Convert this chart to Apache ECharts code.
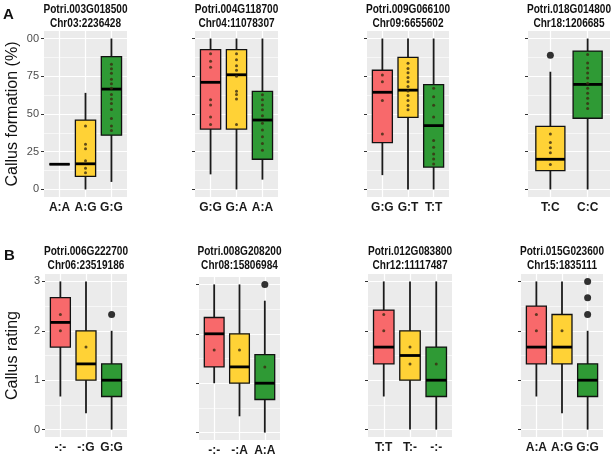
<!DOCTYPE html>
<html><head><meta charset="utf-8">
<script src="https://cdn.jsdelivr.net/npm/echarts@6.0.0/dist/echarts.min.js"></script>
<style>html,body{margin:0;padding:0;background:#fff}#c{width:615px;height:456px}</style>
</head><body><div id="c"></div>
<script>
// ---------- DATA ----------
// stats per category: [min, Q1, median, Q3, max]; fill: 0 red, 1 yellow, 2 green
const A1_title = ['Potri.003G018500', 'Chr03:2236428'];
const A1_cats = ['A:A', 'A:G', 'G:G'];
const A1_stats = [[16.7,16.7,16.7,16.7,16.7], [0,8.7,17,46,64], [5,36,66.5,88,100]];
const A1_fill = [0, 1, 2];
const A1_dots = [[], [42,30,27,19,14,11], [83,80,77,73,70,67,63,60,57,53,47,42,39]];
const A1_out = [[], [], []];

const A2_title = ['Potri.004G118700', 'Chr04:11078307'];
const A2_cats = ['G:G', 'G:A', 'A:A'];
const A2_stats = [[10,40,71,92.6,100], [0,40,76,92.6,100], [6.5,20,46,65,100]];
const A2_fill = [0, 1, 2];
const A2_dots = [[90,85,81,59.5,56,48,43], [90,86,82,79,75,65,63,60,43], [62.8,59.5,56,52.8,48.8,43.9,39.4,35,30.4,26]];
const A2_out = [[], [], []];

const A3_title = ['Potri.009G066100', 'Chr09:6655602'];
const A3_cats = ['G:G', 'G:T', 'T:T'];
const A3_stats = [[9.5,31,64.4,79,100], [0,47.7,65.8,87.5,100], [0,14.8,42.3,69.4,100]];
const A3_fill = [0, 1, 2];
const A3_dots = [[75.8,71.3,59,36.7], [83.6,80.2,77.3,74.2,71.3,68.3,65.2,62.3,59,55.6,52.8], [67,61.4,55.8,48,32.4,27.9,23.5,20.1,16.8]];
const A3_out = [[], [], []];

const A4_title = ['Potri.018G014800', 'Chr18:1206685'];
const A4_cats = ['T:C', 'C:C'];
const A4_stats = [[0,12.5,20,41.8,78], [0,47.2,69.6,91.7,100]];
const A4_fill = [1, 2];
const A4_dots = [[36.7,31.1,27.7,24.4,16.6], [89.4,83.8,80.5,77.1,73.8,70.4,67.1,63.7,60.4,57,53.7]];
const A4_out = [[88.9], []];

const B1_title = ['Potri.006G222700', 'Chr06:23519186'];
const B1_cats = ['-:-', '-:G', 'G:G'];
const B1_stats = [[0.67,1.67,2.17,2.67,3], [0.33,1,1.33,2,3], [0,0.67,1,1.33,2]];
const B1_fill = [0, 1, 2];
const B1_dots = [[2.33,2.0], [1.67], []];
const B1_out = [[], [], [2.33]];

const B2_title = ['Potri.008G208200', 'Chr08:15806984'];
const B2_cats = ['-:-', '-:A', 'A:A'];
const B2_stats = [[1,1.33,2,2.33,3], [0.33,1,1.33,2,3], [0,0.67,1,1.58,2.67]];
const B2_fill = [0, 1, 2];
const B2_dots = [[1.67], [1.67], [1.33]];
const B2_out = [[], [], [3]];

const B3_title = ['Potri.012G083800', 'Chr12:11117487'];
const B3_cats = ['T:T', 'T:-', '-:-'];
const B3_stats = [[0.67,1.33,1.67,2.42,3], [0,1,1.5,2,3], [0,0.67,1,1.67,3]];
const B3_fill = [0, 1, 2];
const B3_dots = [[2.33,2.0], [1.67,1.33], [1.33]];
const B3_out = [[], [], []];

const B4_title = ['Potri.015G023600', 'Chr15:1835111'];
const B4_cats = ['A:A', 'A:G', 'G:G'];
const B4_stats = [[0.67,1.33,1.67,2.5,3], [0.33,1.33,1.67,2.33,3], [0,0.67,1,1.33,2]];
const B4_fill = [0, 1, 2];
const B4_dots = [[2.33,2.0], [2.0], []];
const B4_out = [[], [], [3,2.67,2.33]];

const yTicksA = [0, 25, 50, 75, 100];
const yTickLabelsA = ['0', '25', '50', '75', '00'];
const yMinorA = [12.5, 37.5, 62.5, 87.5];
const yTicksB = [0, 1, 2, 3];
const yTickLabelsB = ['0', '1', '2', '3'];
const yMinorB = [0.5, 1.5, 2.5];
const yNameA = 'Callus formation (%)';
const yNameB = 'Callus rating';

// ---------- STYLE / LAYOUT ----------
const fillPalette = ['#F8696B', '#FFD236', '#2F9A35'];
const BOX_W = 0.78;
const FONT = "'Liberation Sans',Arial,sans-serif";

const panels = [
  {t:A1_title,c:A1_cats,s:A1_stats,f:A1_fill,d:A1_dots,o:A1_out,row:'A',left:44,width:83,top:31,height:166,labels:true},
  {t:A2_title,c:A2_cats,s:A2_stats,f:A2_fill,d:A2_dots,o:A2_out,row:'A',left:195,width:83,top:31,height:166,labels:false},
  {t:A3_title,c:A3_cats,s:A3_stats,f:A3_fill,d:A3_dots,o:A3_out,row:'A',left:367,width:82,top:31,height:166,labels:false},
  {t:A4_title,c:A4_cats,s:A4_stats,f:A4_fill,d:A4_dots,o:A4_out,row:'A',left:528,width:82,top:31,height:166,labels:false},
  {t:B1_title,c:B1_cats,s:B1_stats,f:B1_fill,d:B1_dots,o:B1_out,row:'B',left:45,width:82,top:274,height:163,labels:true},
  {t:B2_title,c:B2_cats,s:B2_stats,f:B2_fill,d:B2_dots,o:B2_out,row:'B',left:199,width:81,top:277,height:163,labels:false},
  {t:B3_title,c:B3_cats,s:B3_stats,f:B3_fill,d:B3_dots,o:B3_out,row:'B',left:368,width:84,top:274,height:163,labels:false},
  {t:B4_title,c:B4_cats,s:B4_stats,f:B4_fill,d:B4_dots,o:B4_out,row:'B',left:521,width:82,top:274,height:163,labels:false}
];

function renderBox(params, api) {
  const x = api.value(0);
  const pMin = api.coord([x, api.value(1)]);
  const pQ1 = api.coord([x, api.value(2)]);
  const pMd = api.coord([x, api.value(3)]);
  const pQ3 = api.coord([x, api.value(4)]);
  const pMax = api.coord([x, api.value(5)]);
  const half = api.size([BOX_W, 0])[0] / 2;
  const fill = fillPalette[api.value(6)];
  return {type: 'group', children: [
    {type: 'line', shape: {x1: pMin[0], y1: pMin[1], x2: pMax[0], y2: pMax[1]}, style: {stroke: '#1A1A1A', lineWidth: 1.8}},
    {type: 'rect', shape: {x: pQ3[0] - half, y: pQ3[1], width: half * 2, height: pQ1[1] - pQ3[1]}, style: {fill: fill, stroke: '#111', lineWidth: 1.3}},
    {type: 'line', shape: {x1: pMd[0] - half, y1: pMd[1], x2: pMd[0] + half, y2: pMd[1]}, style: {stroke: '#000', lineWidth: 2.8}}
  ]};
}

const option = {animation: false, grid: [], xAxis: [], yAxis: [], series: [], graphic: []};

panels.forEach((p, i) => {
  const isA = p.row === 'A';
  const ticks = isA ? yTicksA : yTicksB;
  const tickLabels = isA ? yTickLabelsA : yTickLabelsB;
  const minor = isA ? yMinorA : yMinorB;
  const n = p.c.length;
  const xs = p.c.map((_, k) => k + 1);
  option.grid.push({left: p.left, top: p.top, width: p.width, height: p.height, show: true,
    backgroundColor: '#EBEBEB', borderWidth: 0, containLabel: false, outerBoundsMode: 'none'});
  option.xAxis.push({gridIndex: i, type: 'value', min: 0.4, max: n + 0.6,
    axisLine: {show: false}, splitLine: {show: false},
    axisTick: {show: true, customValues: xs, length: 3, lineStyle: {color: '#333', width: 1}},
    axisLabel: {show: true, customValues: xs, margin: 5, formatter: v => p.c[Math.round(v) - 1],
      fontSize: 12, fontWeight: 'bold', color: '#1A1A1A', fontFamily: FONT}});
  const span = ticks[ticks.length - 1] - ticks[0];
  option.yAxis.push({gridIndex: i, type: 'value', min: ticks[0] - span * 0.05, max: ticks[ticks.length - 1] + span * 0.05,
    axisLine: {show: false}, splitLine: {show: false},
    axisTick: {show: true, customValues: ticks, length: 3, lineStyle: {color: '#333', width: 1}},
    axisLabel: {show: p.labels, customValues: ticks, margin: 5, fontSize: 11, color: '#4D4D4D',
      fontFamily: FONT, formatter: v => tickLabels[ticks.indexOf(v)]},
    name: p.labels ? (isA ? yNameA : yNameB) : '', nameLocation: 'middle', nameRotate: 90,
    nameGap: isA ? 23 : 24, nameTextStyle: {fontSize: 16, color: '#111', fontFamily: FONT}});

  // grid lines via markLine (kept beneath the boxes)
  const ml = [];
  ticks.forEach(v => ml.push({yAxis: v, lineStyle: {width: 1.2}}));
  minor.forEach(v => ml.push({yAxis: v, lineStyle: {width: 0.6}}));
  xs.forEach(v => ml.push({xAxis: v, lineStyle: {width: 1.2}}));
  option.series.push({type: 'scatter', xAxisIndex: i, yAxisIndex: i, data: [], z: 1, silent: true,
    markLine: {z: 1, silent: true, symbol: ['none', 'none'], label: {show: false}, animation: false,
      lineStyle: {color: '#FFFFFF', type: 'solid'}, emphasis: {disabled: true}, data: ml}});

  // boxes
  option.series.push({type: 'custom', xAxisIndex: i, yAxisIndex: i, z: 10, silent: true,
    renderItem: renderBox, encode: {x: 0, y: [1, 2, 3, 4, 5]},
    data: p.s.map((st, k) => [k + 1, st[0], st[1], st[2], st[3], st[4], p.f[k]])});

  // jittered dots
  const dots = [];
  p.d.forEach((arr, k) => arr.forEach(v => dots.push([k + 1, v])));
  option.series.push({type: 'scatter', xAxisIndex: i, yAxisIndex: i, z: 11, silent: true,
    symbolSize: 3, itemStyle: {color: '#3A2A10', opacity: 0.8}, data: dots});

  // outliers
  const outs = [];
  p.o.forEach((arr, k) => arr.forEach(v => outs.push([k + 1, v])));
  option.series.push({type: 'scatter', xAxisIndex: i, yAxisIndex: i, z: 11, silent: true,
    symbolSize: 7, itemStyle: {color: '#000'}, data: outs});

  // panel title (condensed bold)
  const cx = p.left + p.width / 2;
  const y1 = isA ? 10 : 252;
  [0, 1].forEach(j => option.graphic.push({type: 'text', x: cx, y: y1 + j * 14, scaleX: 0.84, silent: true,
    style: {text: p.t[j], fontSize: 12, fontWeight: 'bold', fill: '#111', fontFamily: FONT,
      textAlign: 'center', textVerticalAlign: 'middle'}}));
});

option.graphic.push({type: 'text', x: 3, y: 7, style: {text: 'A', fontSize: 15, fontWeight: 'bold', fill: '#111', fontFamily: FONT}});
option.graphic.push({type: 'text', x: 4, y: 248, style: {text: 'B', fontSize: 15, fontWeight: 'bold', fill: '#111', fontFamily: FONT}});

const chart = echarts.init(document.getElementById('c'), null, {renderer: 'canvas'});
chart.setOption(option);
</script></body></html>
